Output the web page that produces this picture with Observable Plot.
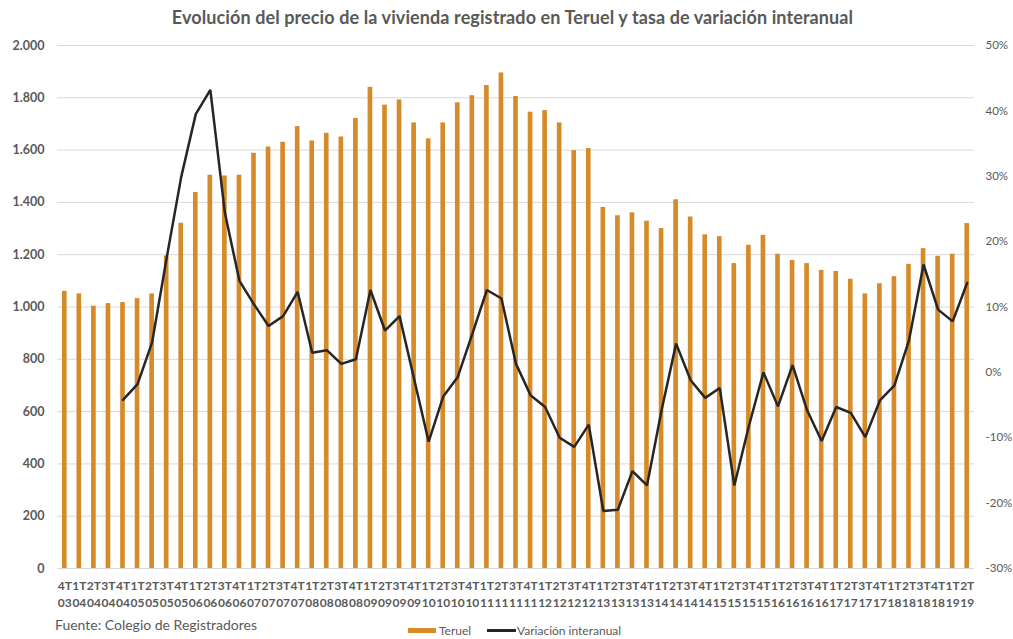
<!DOCTYPE html>
<html>
<head>
<meta charset="utf-8">
<script src="https://cdn.jsdelivr.net/npm/d3@7"></script>
<script src="https://cdn.jsdelivr.net/npm/@observablehq/plot@0.6"></script>
<style>
  html, body { margin: 0; padding: 0; background: #fff; }
  #wrap { position: relative; width: 1013px; height: 639px; font-family: Lato, "Open Sans", sans-serif; color: #595959; overflow: hidden; }
  #title { position: absolute; left: 0; top: 0; width: 1013px; height: 34px; line-height: 34px; text-align: center; font-size: 18px; font-weight: bold; padding-left: 12px; box-sizing: border-box; letter-spacing: 0.1px; }
  #chart { position: absolute; left: 0; top: 34px; }
  #source { position: absolute; left: 55px; top: 616px; font-size: 14px; }
  .leg { position: absolute; top: 623px; font-size: 12px; display: flex; align-items: center; }
  .sw-bar { display: inline-block; width: 28px; height: 5px; background: #d68b2b; margin-right: 3px; }
  .sw-line { display: inline-block; width: 29px; height: 2.5px; background: #262626; margin-right: 1px; }
</style>
</head>
<body>
<div id="wrap">
  <div id="title">Evolución del precio de la vivienda registrado en Teruel y tasa de variación interanual</div>
  <div id="chart"></div>
  <div id="source">Fuente: Colegio de Registradores</div>
  <div class="leg" style="left:408px"><span class="sw-bar"></span>Teruel</div>
  <div class="leg" style="left:487px"><span class="sw-line"></span>Variación interanual</div>
</div>
<script>
// Periods (quarter + year), tick labels
const periods = [
  "4T 03",
  "1T 04","2T 04","3T 04","4T 04",
  "1T 05","2T 05","3T 05","4T 05",
  "1T 06","2T 06","3T 06","4T 06",
  "1T 07","2T 07","3T 07","4T 07",
  "1T 08","2T 08","3T 08","4T 08",
  "1T 09","2T 09","3T 09","4T 09",
  "1T 10","2T 10","3T 10","4T 10",
  "1T 11","2T 11","3T 11","4T 11",
  "1T 12","2T 12","3T 12","4T 12",
  "1T 13","2T 13","3T 13","4T 13",
  "1T 14","2T 14","3T 14","4T 14",
  "1T 15","2T 15","3T 15","4T 15",
  "1T 16","2T 16","3T 16","4T 16",
  "1T 17","2T 17","3T 17","4T 17",
  "1T 18","2T 18","3T 18","4T 18",
  "1T 19","2T 19"
];

// Precio vivienda registrado Teruel (€/m2)
const teruel = [
  1060,
  1050, 1003, 1013, 1017,
  1032, 1050, 1195, 1320,
  1438, 1504, 1501, 1504,
  1588, 1612, 1630, 1690,
  1635, 1664, 1650, 1721,
  1840, 1772, 1792, 1704,
  1643, 1704, 1781, 1808,
  1847, 1895, 1805, 1745,
  1751, 1704, 1598, 1606,
  1381, 1349, 1360, 1328,
  1300, 1410, 1344, 1276,
  1269, 1166, 1236, 1274,
  1202, 1178, 1166, 1140,
  1136, 1106, 1050, 1089,
  1116, 1163, 1223, 1194,
  1202, 1319
];

// Variación interanual (%)
const variacion = [
  null,
  null, null, null, -4.2,
  -1.8, 4.6, 17.5, 29.9,
  39.5, 43.2, 24.4, 14.0,
  10.4, 7.1, 8.6, 12.3,
  3.0, 3.4, 1.3, 2.0,
  12.6, 6.4, 8.6, -1.0,
  -10.6, -3.7, -0.7, 5.9,
  12.6, 11.3, 1.3, -3.5,
  -5.3, -10.0, -11.4, -8.0,
  -21.2, -21.0, -15.1, -17.3,
  -5.8, 4.4, -1.2, -3.9,
  -2.4, -17.3, -8.2, 0.0,
  -5.2, 1.1, -5.8, -10.5,
  -5.3, -6.2, -9.9, -4.3,
  -2.0, 4.9, 16.5, 9.6,
  7.8, 13.7
];

const leftTicks = [0, 200, 400, 600, 800, 1000, 1200, 1400, 1600, 1800, 2000];
const rightTicks = [-30, -20, -10, 0, 10, 20, 30, 40, 50];

const rows = periods.map((p, i) => ({period: p, price: teruel[i], pct: variacion[i]}));
const lineRows = rows.filter(d => d.pct != null);

// map percentage onto the left axis domain (secondary axis -30%..50% <-> 0..2000)
const pctMin = -30, pctMax = 50, yMax = 2000;
const toY = p => (p - pctMin) / (pctMax - pctMin) * yMax;
const fromY = v => v / yMax * (pctMax - pctMin) + pctMin;

const es = d3.formatLocale({decimal: ",", thousands: ".", grouping: [3], currency: ["", "€"]});
const fmt = es.format(",.0f");

const chart = Plot.plot({
  width: 1013,
  height: 584,
  marginTop: 11,
  marginBottom: 50,
  marginLeft: 57,
  marginRight: 39,
  style: {fontFamily: "Lato, 'Open Sans', sans-serif", fontSize: "12px", color: "#595959", background: "#fff", overflow: "visible"},
  x: {domain: periods, paddingInner: 0.68, paddingOuter: 0.34, label: null},
  y: {domain: [0, yMax], label: null},
  marks: [
    Plot.gridY(leftTicks, {stroke: "#d9d9d9", strokeOpacity: 1, strokeWidth: 1}),
    Plot.axisY(leftTicks, {tickSize: 0, tickPadding: 13, tickFormat: fmt, fontWeight: "bold", fontSize: 12.5, label: null}),
    Plot.axisY(rightTicks.map(toY), {anchor: "right", tickSize: 0, tickPadding: 11, tickFormat: v => `${Math.round(fromY(v))}%`, fontSize: 11.5, label: null}),
    Plot.axisX({tickSize: 0, tickPadding: 10, tickFormat: d => d.replace(" ", "\n"), fontWeight: "bold", fontSize: 12, lineHeight: 1.4, label: null}),
    Plot.barY(rows, {x: "period", y: "price", fill: "#d68b2b"}),
    Plot.lineY(lineRows, {x: "period", y: d => toY(d.pct), stroke: "#262626", strokeWidth: 2.5, strokeLinejoin: "miter"})
  ]
});
document.getElementById("chart").appendChild(chart);
</script>
</body>
</html>
